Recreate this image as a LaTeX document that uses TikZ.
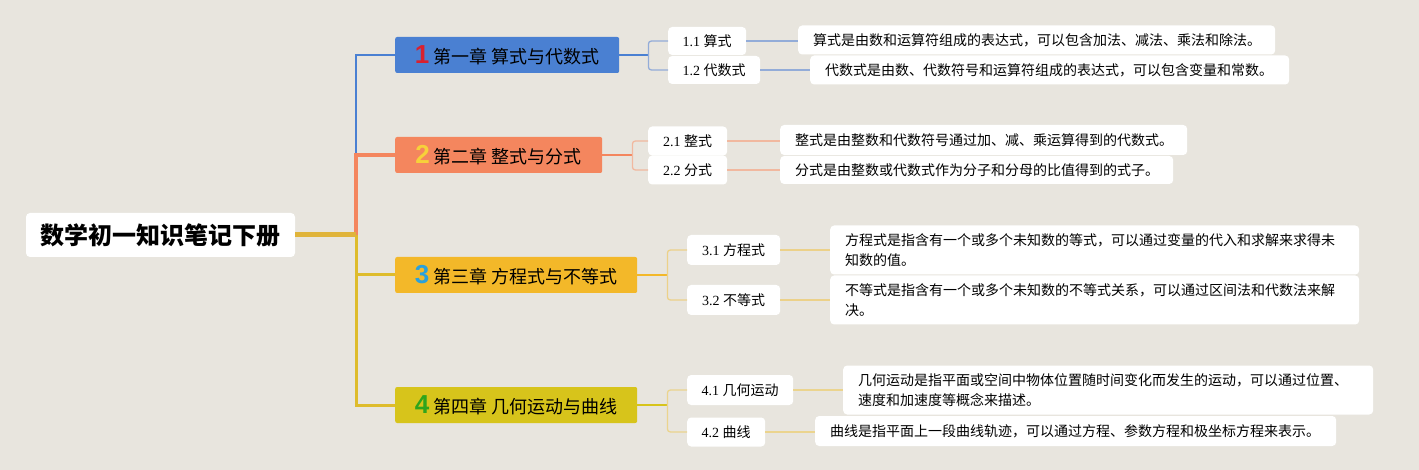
\documentclass[tikz,border=0pt]{standalone}
\usepackage{fontspec}
\setmainfont{Liberation Serif}
\newfontfamily\cjk{Noto Sans CJK SC}
\newfontfamily\numfont{Liberation Sans}
\definecolor{bg}{HTML}{E8E5DE}
\definecolor{cA}{HTML}{4A80D2}
\definecolor{cAl}{HTML}{93ACD8}
\definecolor{cB}{HTML}{F4865E}
\definecolor{cBl}{HTML}{F1B89F}
\definecolor{cC}{HTML}{F3B829}
\definecolor{cCl}{HTML}{ECD189}
\definecolor{cD}{HTML}{D7C41B}
\definecolor{cDl}{HTML}{EBD48E}
\definecolor{rootc}{HTML}{E0B43A}
\definecolor{trunkY}{HTML}{DEBC2C}
\definecolor{numA}{HTML}{D9202E}
\definecolor{numB}{HTML}{F7D13A}
\definecolor{numC}{HTML}{2AA1DC}
\definecolor{numD}{HTML}{2FA51C}
\begin{document}
\begin{tikzpicture}[x=1pt,y=-1pt,
  rootbox/.style={fill=white, rounded corners=4pt, minimum width=269pt, minimum height=44pt, inner sep=0pt, font=\cjk\bfseries\fontsize{24}{28}\selectfont},
  chbox/.style={fill=#1, rounded corners=2pt, anchor=west, minimum height=36pt, inner sep=0pt, font=\cjk\fontsize{18}{21}\selectfont},
  subbox/.style={fill=white, rounded corners=4pt, anchor=west, inner sep=0pt, font=\fontsize{14}{18}\selectfont},
  detbox/.style={fill=white, rounded corners=4pt, anchor=west, align=left, inner xsep=15pt, inner ysep=0pt, font=\cjk\fontsize{14}{19.5}\selectfont},
  link/.style={draw=#1, line width=1.3pt, rounded corners=3pt},
]
\newcommand{\chnum}[2]{{\numfont\bfseries\fontsize{26}{26}\selectfont\color{#1}#2}}
\fill[bg] (0,0) rectangle (1419,470);
\useasboundingbox (0,0) rectangle (1419,470);

% root
\node[rootbox] (root) at (160.5,235) {数学初一知识笔记下册};
\coordinate (trunk) at (356,235);
\coordinate (trunkB) at (356,155);

% chapters
\node[chbox=cA, minimum width=224pt] (ch1) at (395,55) {\chnum{numA}{1}\ 第一章 算式与代数式};
\node[chbox=cB, minimum width=207pt] (ch2) at (395,155) {\chnum{numB}{2}\ 第二章 整式与分式};
\node[chbox=cC, minimum width=242pt] (ch3) at (395,275) {\chnum{numC}{3}\ 第三章 方程式与不等式};
\node[chbox=cD, minimum width=242pt] (ch4) at (395,405) {\chnum{numD}{4}\ 第四章 几何运动与曲线};

% trunk connectors
\draw[cA, line width=2pt] (ch1.west) -| (trunkB);
\draw[cB, line width=4pt] (ch2.west) -| (trunk);
\draw[trunkY, line width=3pt] (trunk) |- (ch3.west);
\draw[trunkY, line width=3pt] (trunk) |- (ch4.west);
\draw[rootc, line width=5pt] (root.east) -- (trunk);

% sub nodes
\node[subbox, minimum width=78pt, minimum height=28pt] (s11) at (668,41) {1.1 {\cjk 算式}};
\node[subbox, minimum width=92pt, minimum height=28pt] (s12) at (668,70) {1.2 {\cjk 代数式}};
\node[subbox, minimum width=79pt, minimum height=29pt] (s21) at (648,141) {2.1 {\cjk 整式}};
\node[subbox, minimum width=79pt, minimum height=29pt] (s22) at (648,170) {2.2 {\cjk 分式}};
\node[subbox, minimum width=93pt, minimum height=30pt] (s31) at (687,250) {3.1 {\cjk 方程式}};
\node[subbox, minimum width=93pt, minimum height=30pt] (s32) at (687,300) {3.2 {\cjk 不等式}};
\node[subbox, minimum width=106pt, minimum height=30pt] (s41) at (687,390) {4.1 {\cjk 几何运动}};
\node[subbox, minimum width=78pt, minimum height=29pt] (s42) at (687,432) {4.2 {\cjk 曲线}};

% detail nodes
\node[detbox, text width=447pt, minimum height=29pt] (d11) at (798,40) {算式是由数和运算符组成的表达式，可以包含加法、减法、乘法和除法。};
\node[detbox, text width=449pt, minimum height=29pt] (d12) at (810,70) {代数式是由数、代数符号和运算符组成的表达式，可以包含变量和常数。};
\node[detbox, text width=377pt, minimum height=30pt] (d21) at (780,140) {整式是由整数和代数符号通过加、减、乘运算得到的代数式。};
\node[detbox, text width=363pt, minimum height=28pt] (d22) at (780,170) {分式是由整数或代数式作为分子和分母的比值得到的式子。};
\node[detbox, text width=499pt, minimum height=49pt] (d31) at (830,250) {方程式是指含有一个或多个未知数的等式，可以通过变量的代入和求解来求得未\\知数的值。};
\node[detbox, text width=499pt, minimum height=49pt] (d32) at (830,300) {不等式是指含有一个或多个未知数的不等式关系，可以通过区间法和代数法来解\\决。};
\node[detbox, text width=500pt, minimum height=49pt] (d41) at (843,390) {几何运动是指平面或空间中物体位置随时间变化而发生的运动，可以通过位置、\\速度和加速度等概念来描述。};
\node[detbox, text width=491pt, minimum height=30pt] (d42) at (815,431) {曲线是指平面上一段曲线轨迹，可以通过方程、参数方程和极坐标方程来表示。};

% chapter -> sub connectors
\draw[cA, line width=1.5pt] (ch1.east) -- ++(29,0) coordinate (j1);
\draw[link=cAl] (j1) |- (s11.west);
\draw[link=cAl] (j1) |- (s12.west);
\draw[cB, line width=1.5pt] (ch2.east) -- ++(30,0) coordinate (j2);
\draw[link=cBl] (j2) |- (s21.west);
\draw[link=cBl] (j2) |- (s22.west);
\draw[cC, line width=1.5pt] (ch3.east) -- ++(30,0) coordinate (j3);
\draw[link=cCl] (j3) |- (s31.west);
\draw[link=cCl] (j3) |- (s32.west);
\draw[cD, line width=1.5pt] (ch4.east) -- ++(30,0) coordinate (j4);
\draw[link=cDl] (j4) |- (s41.west);
\draw[link=cDl] (j4) |- (s42.west);

% sub -> detail connectors
\draw[link=cAl] (s11.east) -- (s11.east -| d11.west);
\draw[link=cAl] (s12.east) -- (s12.east -| d12.west);
\draw[link=cBl] (s21.east) -- (s21.east -| d21.west);
\draw[link=cBl] (s22.east) -- (s22.east -| d22.west);
\draw[link=cCl] (s31.east) -- (s31.east -| d31.west);
\draw[link=cCl] (s32.east) -- (s32.east -| d32.west);
\draw[link=cDl] (s41.east) -- (s41.east -| d41.west);
\draw[link=cDl] (s42.east) -- (s42.east -| d42.west);
\end{tikzpicture}
\end{document}
